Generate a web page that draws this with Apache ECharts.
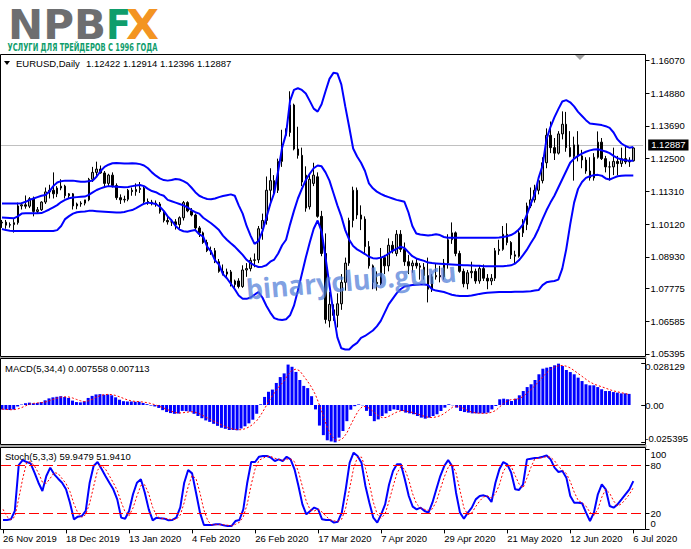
<!DOCTYPE html>
<html><head><meta charset="utf-8">
<script src="https://cdn.jsdelivr.net/npm/echarts@6/dist/echarts.min.js"></script>
<style>html,body{margin:0;padding:0;background:#fff;}#c{width:691px;height:549px;}</style>
</head><body><div id="c"></div>
<script>
// ---------- DATA ----------
const opens = [
1.1016,1.1019,1.1008,1.1010,1.1017,1.1078,1.1082,1.1077,1.1104,1.1058,
1.1064,1.1092,1.1129,1.1135,1.1122,1.1143,1.1150,1.1115,1.1122,1.1078,
1.1085,1.1088,1.1100,1.1175,1.1200,1.1212,1.1198,1.1160,1.1190,1.1152,
1.1108,1.1100,1.1102,1.1135,1.1130,1.1138,1.1142,1.1094,1.1092,1.1088,
1.1085,1.1057,1.1025,1.1020,1.1020,1.1010,1.1035,1.1090,1.1060,1.1045,
1.0998,1.0980,1.0945,1.0915,1.0915,1.0875,1.0840,1.0830,1.0838,1.0792,
1.0805,1.0785,1.0845,1.0850,1.0880,1.0882,1.0995,1.1025,1.1135,1.1170,
1.1135,1.1240,1.1335,1.1345,1.1445,1.1285,1.1262,1.1070,1.1075,1.1160,
1.1184,1.1040,1.0905,1.0660,1.0700,1.0680,1.0722,1.0800,1.0870,1.1025,
1.1135,1.1045,1.1030,1.0930,1.0860,1.0800,1.0795,1.0890,1.0860,1.0935,
1.0905,1.0975,1.0920,1.0875,1.0860,1.0870,1.0860,1.0855,1.0825,1.0775,
1.0820,1.0825,1.0820,1.0870,1.0955,1.0980,1.0905,1.0840,1.0795,1.0835,
1.0840,1.0805,1.0850,1.0815,1.0805,1.0815,1.0915,1.0920,1.0975,1.0945,
1.0900,1.0895,1.0980,1.1010,1.1078,1.1100,1.1135,1.1170,1.1235,1.1335,
1.1290,1.1270,1.1340,1.1375,1.1290,1.1258,1.1300,1.1260,1.1245,1.1205,
1.1180,1.1255,1.1310,1.1250,1.1220,1.1220,1.1240,1.1232,1.1250,1.1238,
1.12422];
const highs = [
1.1027,1.1027,1.1018,1.1030,1.1090,1.1090,1.1116,1.1110,1.1112,1.1074,
1.1095,1.1145,1.1155,1.1200,1.1150,1.1175,1.1155,1.1125,1.1125,1.1090,
1.1095,1.1100,1.1180,1.1220,1.1239,1.1225,1.1205,1.1195,1.1200,1.1160,
1.1120,1.1115,1.1140,1.1145,1.1160,1.1165,1.1148,1.1105,1.1100,1.1098,
1.1092,1.1062,1.1040,1.1030,1.1030,1.1040,1.1096,1.1095,1.1070,1.1050,
1.1005,1.0985,1.0955,1.0930,1.0925,1.0885,1.0865,1.0850,1.0845,1.0810,
1.0815,1.0862,1.0870,1.0890,1.0905,1.1005,1.1050,1.1185,1.1215,1.1190,
1.1250,1.1355,1.1360,1.1495,1.1450,1.1366,1.1290,1.1222,1.1195,1.1235,
1.1200,1.1060,1.0978,1.0765,1.0720,1.0760,1.0830,1.0890,1.1035,1.1148,
1.1145,1.1080,1.1040,1.0950,1.0865,1.0840,1.0925,1.0900,1.0960,1.0950,
1.0990,1.0990,1.0945,1.0900,1.0880,1.0885,1.0870,1.0870,1.0890,1.0830,
1.0870,1.0860,1.0885,1.0975,1.1018,1.0985,1.0915,1.0850,1.0845,1.0875,
1.0850,1.0860,1.0865,1.0830,1.0830,1.0925,1.0955,1.1005,1.1015,1.0950,
1.0915,1.0995,1.1030,1.1090,1.1145,1.1155,1.1180,1.1255,1.1360,1.1385,
1.1325,1.1350,1.1422,1.1420,1.1350,1.1330,1.1350,1.1282,1.1255,1.1255,
1.1270,1.1349,1.1325,1.1260,1.1240,1.1290,1.1260,1.1290,1.1300,1.1255,
1.12914];
const lows = [
1.0998,1.0995,1.0999,1.0981,1.1010,1.1065,1.1068,1.1070,1.1040,1.1050,
1.1060,1.1085,1.1105,1.1105,1.1110,1.1135,1.1105,1.1105,1.1065,1.1066,
1.1075,1.1080,1.1095,1.1165,1.1185,1.1195,1.1150,1.1150,1.1145,1.1100,
1.1085,1.1090,1.1095,1.1115,1.1115,1.1125,1.1088,1.1082,1.1080,1.1075,
1.1050,1.1018,1.1010,1.1005,1.0992,1.0995,1.1025,1.1055,1.1040,1.0990,
1.0965,1.0940,1.0910,1.0900,1.0870,1.0835,1.0825,1.0820,1.0785,1.0780,
1.0778,1.0780,1.0820,1.0840,1.0855,1.0870,1.0955,1.1010,1.1080,1.1120,
1.1125,1.1220,1.1325,1.1330,1.1280,1.1250,1.1150,1.1057,1.1065,1.1150,
1.1035,1.0895,1.0650,1.0636,1.0660,1.0636,1.0700,1.0770,1.0860,1.1000,
1.1030,1.0990,1.0905,1.0850,1.0775,1.0770,1.0790,1.0830,1.0840,1.0905,
1.0895,1.0910,1.0860,1.0830,1.0835,1.0850,1.0810,1.0810,1.0727,1.0765,
1.0810,1.0800,1.0810,1.0850,1.0940,1.0895,1.0835,1.0782,1.0775,1.0815,
1.0795,1.0795,1.0805,1.0775,1.0790,1.0805,1.0900,1.0915,1.0935,1.0885,
1.0870,1.0890,1.0965,1.0990,1.1070,1.1090,1.1120,1.1160,1.1215,1.1270,
1.1245,1.1265,1.1320,1.1275,1.1255,1.1170,1.1240,1.1215,1.1195,1.1170,
1.1170,1.1250,1.1245,1.1200,1.1170,1.1190,1.1190,1.1220,1.1230,1.1220,
1.12396];
const closes = [
1.1019,1.1008,1.1010,1.1017,1.1078,1.1082,1.1077,1.1104,1.1058,1.1064,
1.1092,1.1129,1.1135,1.1122,1.1143,1.1150,1.1115,1.1122,1.1078,1.1085,
1.1088,1.1100,1.1175,1.1200,1.1212,1.1198,1.1160,1.1190,1.1152,1.1108,
1.1100,1.1102,1.1135,1.1130,1.1138,1.1142,1.1094,1.1092,1.1088,1.1085,
1.1057,1.1025,1.1020,1.1020,1.1010,1.1035,1.1090,1.1060,1.1045,1.0998,
1.0980,1.0945,1.0915,1.0915,1.0875,1.0840,1.0830,1.0838,1.0792,1.0805,
1.0785,1.0845,1.0850,1.0880,1.0882,1.0995,1.1025,1.1135,1.1170,1.1135,
1.1240,1.1285,1.1345,1.1445,1.1285,1.1262,1.1165,1.1190,1.1175,1.1190,
1.1040,1.0905,1.0665,1.0720,1.0680,1.0722,1.0800,1.0870,1.1025,1.1135,
1.1045,1.1030,1.0930,1.0860,1.0800,1.0795,1.0890,1.0860,1.0935,1.0915,
1.0975,1.0920,1.0875,1.0860,1.0870,1.0860,1.0855,1.0825,1.0775,1.0820,
1.0825,1.0820,1.0870,1.0955,1.0980,1.0905,1.0840,1.0795,1.0835,1.0840,
1.0805,1.0850,1.0815,1.0805,1.0815,1.0915,1.0920,1.0975,1.0945,1.0900,
1.0895,1.0980,1.1010,1.1078,1.1100,1.1135,1.1170,1.1235,1.1335,1.1290,
1.1270,1.1340,1.1375,1.1290,1.1258,1.1300,1.1260,1.1245,1.1205,1.1180,
1.1255,1.1310,1.1250,1.1220,1.1220,1.1240,1.1232,1.1250,1.1238,1.1242,
1.12887];
const bbUpper = [
1.1087,1.1087,1.1087,1.1087,1.1087,1.1088,1.1093,1.1100,1.1105,1.1110,
1.1115,1.1118,1.1130,1.1150,1.1163,1.1168,1.1170,1.1170,1.1170,1.1168,
1.1166,1.1166,1.1168,1.1170,1.1185,1.1205,1.1220,1.1228,1.1233,1.1234,
1.1233,1.1232,1.1232,1.1233,1.1232,1.1230,1.1225,1.1215,1.1200,1.1188,
1.1178,1.1172,1.1170,1.1172,1.1176,1.1174,1.1168,1.1160,1.1145,1.1128,
1.1115,1.1108,1.1103,1.1102,1.1105,1.1110,1.1114,1.1117,1.1120,1.1115,
1.1080,1.1050,1.1005,1.0970,1.0940,1.0950,1.0985,1.1035,1.1085,1.1125,
1.1205,1.1290,1.1340,1.1460,1.1500,1.1506,1.1500,1.1487,1.1460,1.1432,
1.1421,1.1448,1.1495,1.1540,1.1562,1.1560,1.1520,1.1440,1.1365,1.1287,
1.1258,1.1235,1.1205,1.1160,1.1142,1.1130,1.1122,1.1115,1.1110,1.1105,
1.1100,1.1097,1.1093,1.1055,1.1005,1.0978,1.0974,1.0972,1.0970,1.0972,
1.0975,1.0972,1.0965,1.0962,1.0962,1.0962,1.0962,1.0962,1.0962,1.0962,
1.0962,1.0962,1.0962,1.0962,1.0962,1.0962,1.0963,1.0965,1.0968,1.0972,
1.0980,1.0992,1.1010,1.1045,1.1085,1.1120,1.1180,1.1225,1.1320,1.1365,
1.1400,1.1430,1.1458,1.1463,1.1455,1.1440,1.1420,1.1405,1.1390,1.1378,
1.1376,1.1374,1.1372,1.1368,1.1362,1.1345,1.1320,1.1305,1.1296,1.1290,
1.1292];
const bbMiddle = [
1.1036,1.1035,1.1034,1.1033,1.1040,1.1050,1.1051,1.1051,1.1051,1.1051,
1.1052,1.1058,1.1065,1.1073,1.1081,1.1092,1.1100,1.1106,1.1109,1.1110,
1.1111,1.1112,1.1118,1.1127,1.1136,1.1142,1.1147,1.1150,1.1149,1.1148,
1.1147,1.1146,1.1147,1.1150,1.1152,1.1154,1.1150,1.1140,1.1132,1.1128,
1.1120,1.1115,1.1100,1.1095,1.1090,1.1085,1.1080,1.1073,1.1063,1.1055,
1.1050,1.1035,1.1025,1.1015,1.1003,1.0990,1.0970,1.0955,1.0942,1.0930,
1.0915,1.0900,1.0882,1.0870,1.0862,1.0856,1.0857,1.0862,1.0875,1.0883,
1.0905,1.0935,1.0955,1.1010,1.1060,1.1105,1.1140,1.1172,1.1195,1.1215,
1.1225,1.1222,1.1200,1.1170,1.1125,1.1080,1.1040,1.0990,1.0955,1.0932,
1.0920,1.0912,1.0903,1.0893,1.0888,1.0887,1.0890,1.0895,1.0905,1.0915,
1.0922,1.0930,1.0925,1.0910,1.0895,1.0887,1.0882,1.0878,1.0872,1.0870,
1.0869,1.0868,1.0867,1.0866,1.0865,1.0864,1.0863,1.0862,1.0862,1.0861,
1.0860,1.0860,1.0859,1.0859,1.0859,1.0859,1.0859,1.0859,1.0860,1.0862,
1.0868,1.0880,1.0898,1.0918,1.0942,1.0965,1.0995,1.1030,1.1062,1.1090,
1.1115,1.1145,1.1175,1.1205,1.1235,1.1250,1.1260,1.1268,1.1275,1.1280,
1.1283,1.1284,1.1280,1.1276,1.1270,1.1260,1.1252,1.1247,1.1244,1.1242,
1.1242];
const bbLower = [
1.0994,1.0990,1.0988,1.0987,1.0987,1.0987,1.0987,1.0987,1.0987,1.0987,
1.0987,1.0987,1.0987,1.0987,1.0990,1.1005,1.1030,1.1041,1.1050,1.1055,
1.1057,1.1058,1.1060,1.1060,1.1059,1.1058,1.1057,1.1056,1.1055,1.1054,
1.1054,1.1056,1.1060,1.1063,1.1070,1.1078,1.1086,1.1090,1.1088,1.1085,
1.1075,1.1060,1.1040,1.1025,1.1005,1.0992,1.0986,1.0984,1.0988,1.0990,
1.0975,1.0966,1.0930,1.0912,1.0880,1.0865,1.0830,1.0815,1.0795,1.0775,
1.0752,1.0740,1.0740,1.0745,1.0755,1.0765,1.0745,1.0715,1.0690,1.0670,
1.0665,1.0663,1.0666,1.0680,1.0715,1.0770,1.0830,1.0890,1.0945,1.0995,
1.1025,1.0985,1.0890,1.0790,1.0690,1.0600,1.0560,1.0556,1.0556,1.0570,
1.0580,1.0598,1.0605,1.0615,1.0625,1.0640,1.0660,1.0690,1.0720,1.0740,
1.0760,1.0775,1.0785,1.0788,1.0790,1.0791,1.0792,1.0792,1.0790,1.0775,
1.0770,1.0768,1.0765,1.0760,1.0755,1.0752,1.0750,1.0750,1.0750,1.0752,
1.0755,1.0758,1.0760,1.0762,1.0763,1.0764,1.0765,1.0765,1.0765,1.0765,
1.0766,1.0766,1.0766,1.0767,1.0768,1.0770,1.0772,1.0790,1.0800,1.0803,
1.0805,1.0810,1.0850,1.0920,1.1010,1.1090,1.1140,1.1165,1.1180,1.1186,
1.1190,1.1191,1.1188,1.1178,1.1174,1.1180,1.1186,1.1188,1.1189,1.1189,
1.1189];
const macdHist = [
-0.0030,-0.0032,-0.0034,-0.0031,-0.0010,0.0003,0.0012,0.0016,0.0012,0.0014,
0.0020,0.0032,0.0045,0.0052,0.0056,0.0060,0.0054,0.0048,0.0030,0.0020,
0.0018,0.0025,0.0048,0.0062,0.0072,0.0074,0.0070,0.0072,0.0066,0.0052,
0.0036,0.0026,0.0024,0.0024,0.0022,0.0022,0.0014,0.0006,-0.0004,-0.0010,
-0.0020,-0.0035,-0.0048,-0.0055,-0.0060,-0.0058,-0.0040,-0.0042,-0.0045,-0.0060,
-0.0075,-0.0090,-0.0105,-0.0115,-0.0128,-0.0142,-0.0155,-0.0162,-0.0170,-0.0170,
-0.0172,-0.0160,-0.0145,-0.0125,-0.0100,-0.0060,0.0005,0.0055,0.0090,0.0105,
0.0150,0.0190,0.0215,0.0275,0.0260,0.0225,0.0170,0.0130,0.0115,0.0060,
-0.0030,-0.0140,-0.0205,-0.0240,-0.0248,-0.025395,-0.0222,-0.0177,-0.0110,-0.0032,
-0.0008,0.0004,-0.0002,-0.0040,-0.0075,-0.0110,-0.0098,-0.0075,-0.0057,-0.0041,
-0.0030,-0.0034,-0.0041,-0.0052,-0.0057,-0.0063,-0.0075,-0.0086,-0.0093,-0.0086,
-0.0075,-0.0063,-0.0041,-0.0018,0.0005,-0.0002,-0.0018,-0.0041,-0.0048,-0.0052,
-0.0057,-0.0057,-0.0057,-0.0057,-0.0052,-0.0030,-0.0007,0.0039,0.0043,0.0039,
0.0027,0.0043,0.0066,0.0095,0.0122,0.0141,0.0170,0.0209,0.0247,0.0254,
0.0259,0.0270,0.028129,0.0265,0.0238,0.0224,0.0209,0.0186,0.0163,0.0141,
0.0134,0.0134,0.0122,0.0107,0.0095,0.0095,0.0088,0.0084,0.0079,0.0079,
0.007558];
const macdSignal = [
-0.0028,-0.0030,-0.0032,-0.0032,-0.0027,-0.0018,-0.0006,0.0005,0.0011,0.0014,
0.0016,0.0020,0.0028,0.0037,0.0046,0.0053,0.0056,0.0055,0.0048,0.0038,
0.0029,0.0023,0.0028,0.0038,0.0052,0.0064,0.0070,0.0072,0.0071,0.0065,
0.0056,0.0045,0.0035,0.0028,0.0024,0.0023,0.0020,0.0016,0.0010,0.0002,
-0.0007,-0.0017,-0.0029,-0.0040,-0.0050,-0.0055,-0.0053,-0.0050,-0.0046,-0.0047,
-0.0055,-0.0068,-0.0082,-0.0096,-0.0110,-0.0122,-0.0135,-0.0147,-0.0157,-0.0164,
-0.0168,-0.0168,-0.0162,-0.0150,-0.0132,-0.0107,-0.0070,-0.0025,0.0022,0.0064,
0.0100,0.0134,0.0165,0.0207,0.0235,0.0244,0.0232,0.0196,0.0160,0.0120,
0.0069,0.0000,-0.0074,-0.0154,-0.0208,-0.0237,-0.0241,-0.0226,-0.0190,-0.0135,
-0.0082,-0.0037,-0.0010,-0.0011,-0.0028,-0.0051,-0.0072,-0.0086,-0.0085,-0.0073,
-0.0058,-0.0045,-0.0037,-0.0041,-0.0046,-0.0053,-0.0062,-0.0070,-0.0079,-0.0085,
-0.0085,-0.0080,-0.0071,-0.0055,-0.0035,-0.0014,-0.0008,-0.0014,-0.0027,-0.0040,
-0.0050,-0.0054,-0.0056,-0.0057,-0.0056,-0.0049,-0.0037,-0.0012,0.0011,0.0029,
0.0037,0.0038,0.0044,0.0058,0.0082,0.0106,0.0132,0.0161,0.0192,0.0220,
0.0242,0.0258,0.0267,0.0269,0.0264,0.0252,0.0234,0.0214,0.0195,0.0175,
0.0156,0.0143,0.0133,0.0124,0.0115,0.0105,0.0096,0.0090,0.0084,0.0078,
0.007113];
const stochK = [
11.7,11.7,12.5,22.9,80.0,86.2,83.7,82.0,70.5,58.0,
47.7,66.3,76.7,68.4,63.0,58.0,49.8,33.2,12.5,15.8,
16.6,22.9,58.0,78.7,83.7,75.4,66.3,58.0,49.8,37.3,
14.6,13.3,22.9,43.6,58.0,62.2,45.6,24.9,11.3,14.6,
13.7,13.3,11.3,11.7,14.6,27.4,58.0,73.8,69.6,45.6,
20.8,5.5,5.5,5.5,6.3,6.3,5.0,4.2,4.2,10.4,
11.7,24.9,58.0,83.7,83.7,90.3,91.2,91.2,89.1,85.0,
87.0,85.0,90.3,87.0,74.6,53.9,31.1,18.7,22.9,27.1,
24.9,12.5,11.7,11.7,8.4,9.6,20.8,49.8,82.9,95.3,
91.2,82.9,53.9,33.2,14.6,8.4,18.7,31.1,55.8,72.5,
80.8,80.8,62.2,41.5,28.2,24.9,27.0,22.9,20.8,33.2,
49.8,66.3,78.7,86.1,78.7,45.6,20.8,13.3,20.8,27.0,
37.3,41.5,42.3,40.7,34.0,58.0,74.6,83.7,80.8,70.5,
49.8,49.0,55.8,87.0,87.8,88.6,89.1,90.3,91.9,87.0,
76.7,71.3,72.5,64.3,41.5,33.2,33.2,32.4,20.8,10.4,
20.8,43.6,55.8,49.8,29.1,27.0,31.1,37.3,43.6,49.8,
59.9479];
const stochD = [
25.0,16.0,12.0,15.7,38.5,63.0,83.3,84.0,78.7,70.2,
58.7,57.3,63.6,70.5,69.4,63.1,56.9,47.0,31.8,20.5,
15.0,18.4,32.5,53.2,73.5,79.3,75.1,66.6,58.0,48.4,
33.9,21.7,16.9,26.6,41.5,54.6,55.3,44.2,27.3,16.9,
13.2,13.9,12.8,12.1,12.5,17.9,33.3,53.1,67.1,63.0,
45.3,24.0,10.6,5.5,5.8,6.0,5.9,5.2,4.5,6.3,
8.8,15.7,31.5,55.5,75.1,85.9,88.4,90.9,90.5,88.4,
87.0,85.7,87.4,87.4,84.0,71.8,53.2,34.6,24.2,22.9,
25.0,21.5,16.4,12.0,10.6,9.9,12.9,26.7,51.2,76.0,
89.8,89.8,76.0,56.7,33.9,18.7,13.9,19.4,35.2,53.1,
69.7,78.0,74.6,61.5,44.0,31.5,26.7,24.9,23.6,25.6,
34.6,49.8,64.9,77.0,81.2,70.1,48.4,26.6,18.3,20.4,
28.4,35.3,40.4,41.5,39.0,44.2,55.5,72.1,79.7,78.3,
67.0,56.4,51.5,63.9,76.9,87.8,88.5,89.3,90.4,89.7,
85.2,78.3,73.5,69.4,59.4,46.3,36.0,32.9,28.8,21.2,
17.3,24.9,40.1,49.7,44.9,35.3,29.1,31.8,37.3,43.6,
51.9410];
const dateTicks = ['26 Nov 2019','18 Dec 2019','13 Jan 2020','4 Feb 2020','26 Feb 2020','17 Mar 2020','7 Apr 2020','29 Apr 2020','21 May 2020','12 Jun 2020','6 Jul 2020'];
const priceTicks = [1.16070,1.14880,1.13690,1.12500,1.11310,1.10120,1.08930,1.07775,1.06585,1.05395];
const macdTicks = [0.028129, 0, -0.025395];
const macdTickText = ['0.028129', '0.00', '-0.025395'];
const stochTicks = [100, 80, 20, 0];
const stochLevels = [80, 20];
const symbolName = 'EURUSD,Daily';
const macdName = 'MACD(5,34,4)';
const stochName = 'Stoch(5,3,3)';
const logoMain = 'NPB', logoF = 'F', logoX = 'X';
const logoSub = 'УСЛУГИ ДЛЯ ТРЕЙДЕРОВ С 1996 ГОДА';
const watermark = 'binaryclub.guru';

// ---------- LAYOUT ----------
const TICK_EVERY = 16;
const SLOTS = opens.length + 2;          // two empty slots of chart shift
const BAR = 3.9475;
const GL = 1.7 - BAR / 2;
const GW = SLOTS * BAR;
const FRAME_R = 645.5;
const cats = Array.from({length: SLOTS}, (_, i) => String(i));
const FONT = 'Liberation Sans';
const FS = 9.5;
const last = opens.length - 1;

const mc = document.createElement('canvas').getContext('2d');
function fit(text, font, width) { mc.font = font; return width / mc.measureText(text).width; }

const tickInt = (idx) => idx % TICK_EVERY === 0 && idx / TICK_EVERY < dateTicks.length;

function xAx(gi, labels) {
  return {
    type: 'category', gridIndex: gi, data: cats, boundaryGap: true,
    axisLine: {show: false}, splitLine: {show: false},
    axisTick: labels ? {show: true, alignWithLabel: true, interval: tickInt, length: 4, lineStyle: {color: '#000'}} : {show: false},
    axisLabel: labels ? {show: true, interval: tickInt, align: 'left', color: '#000', fontSize: FS, fontFamily: FONT, margin: 4,
      formatter: (v, idx) => dateTicks[Math.round(idx / TICK_EVERY)] || ''} : {show: false}
  };
}
function nearIdx(arr, v) { let b = 0; arr.forEach((a, i) => { if (Math.abs(a - v) < Math.abs(arr[b] - v)) b = i; }); return b; }
const yOff = FRAME_R - (GL + GW);
const labRich = {
  n: {fontSize: FS, fontFamily: FONT, color: '#000'},
  dn5: {fontSize: FS, fontFamily: FONT, color: '#000', padding: [5, 0, 0, 0]},
  up8: {fontSize: FS, fontFamily: FONT, color: '#000', padding: [0, 0, 8, 0]},
  dn11: {fontSize: FS, fontFamily: FONT, color: '#000', padding: [11, 0, 0, 0]},
  up11: {fontSize: FS, fontFamily: FONT, color: '#000', padding: [0, 0, 11, 0]}
};

const candleData = opens.map((o, i) => [o, closes[i], lows[i], highs[i]]);
const lineS = (data, color, width, type, x, y, extra) => Object.assign({
  type: 'line', data, xAxisIndex: x, yAxisIndex: y, symbol: 'none', silent: true,
  lineStyle: {color, width, type}, z: 3, animation: false
}, extra || {});

const LOGO_FONT = 'bold 41px "DejaVu Sans"';
const LOGO_Y = 24.5;
const chart = echarts.init(document.getElementById('c'), null, {renderer: 'svg', width: 691, height: 549});
chart.setOption({
  animation: false,
  backgroundColor: '#fff',
  textStyle: {fontFamily: FONT},
  grid: [
    {left: GL, top: 54, width: GW, height: 302},
    {left: GL, top: 359, width: GW, height: 85.3},
    {left: GL, top: 448.9, width: GW, height: 80.5}
  ],
  xAxis: [xAx(0, false), xAx(1, false), xAx(2, true)],
  yAxis: [
    {type: 'value', gridIndex: 0, position: 'right', offset: yOff, min: 1.05321, max: 1.16306,
      axisLine: {show: false}, splitLine: {show: false},
      axisTick: {show: true, customValues: priceTicks, length: 4, lineStyle: {color: '#000'}},
      axisLabel: {show: true, customValues: priceTicks, formatter: v => v.toFixed(5), color: '#000', fontSize: FS, fontFamily: FONT, margin: 5}},
    {type: 'value', gridIndex: 1, position: 'right', offset: yOff, min: -0.026735, max: 0.031293,
      axisLine: {show: false}, splitLine: {show: false},
      axisTick: {show: true, customValues: macdTicks, length: 4, lineStyle: {color: '#000'}},
      axisLabel: {show: true, customValues: macdTicks, margin: 4, rich: labRich,
        formatter: v => { const i = nearIdx(macdTicks, v); const k = i === 0 ? 'dn5' : (i === macdTicks.length - 1 ? 'up8' : 'n'); return '{' + k + '|' + macdTickText[i] + '}'; }}},
    {type: 'value', gridIndex: 2, position: 'right', offset: yOff, min: 0, max: 100,
      axisLine: {show: false}, splitLine: {show: false},
      axisTick: {show: true, customValues: stochTicks, length: 4, lineStyle: {color: '#000'}},
      axisLabel: {show: true, customValues: stochTicks, margin: 5, rich: labRich,
        formatter: v => { const k = v === 100 ? 'dn11' : (v === 0 ? 'up11' : 'n'); return '{' + k + '|' + v + '}'; }}}
  ],
  series: [
    {type: 'candlestick', data: candleData, xAxisIndex: 0, yAxisIndex: 0, barWidth: 2, silent: true, z: 2,
      itemStyle: {color: '#a8a8a8', color0: '#000000', borderColor: '#000000', borderColor0: '#000000', borderColorDoji: '#000000', borderWidth: 1},
      markLine: {silent: true, symbol: 'none', z: 1, animation: false,
        lineStyle: {color: '#c0c0c0', width: 1, type: 'solid'},
        label: {show: true, position: 'end', distance: 5, formatter: () => closes[last].toFixed(5),
          backgroundColor: '#000', color: '#fff', fontSize: FS, fontFamily: FONT, padding: [1, 3, 0, 3]},
        data: [{yAxis: closes[last]}]}},
    lineS(bbUpper, '#0000ff', 2, 'solid', 0, 0),
    lineS(bbMiddle, '#0000ff', 2, 'solid', 0, 0),
    lineS(bbLower, '#0000ff', 2, 'solid', 0, 0),
    {type: 'bar', data: macdHist, xAxisIndex: 1, yAxisIndex: 1, barWidth: 3, silent: true, itemStyle: {color: '#0000ff'}},
    lineS(macdSignal, '#ff0000', 1, [2, 2], 1, 1),
    lineS(stochK, '#0000ff', 2, 'solid', 2, 2, {
      markLine: {silent: true, symbol: 'none', animation: false, label: {show: false},
        lineStyle: {color: '#ff0000', width: 1, type: [10, 4]},
        data: stochLevels.map(v => ({yAxis: v}))}}),
    lineS(stochD, '#ff0000', 1, [2, 2], 2, 2)
  ],
  graphic: [
    {type: 'rect', shape: {x: 0.5, y: 54.5, width: FRAME_R - 0.5, height: 302}, style: {fill: 'none', stroke: '#000', lineWidth: 1}, z: 50, silent: true},
    {type: 'rect', shape: {x: 0.5, y: 358.5, width: FRAME_R - 0.5, height: 86}, style: {fill: 'none', stroke: '#000', lineWidth: 1}, z: 50, silent: true},
    {type: 'rect', shape: {x: 0.5, y: 447.5, width: FRAME_R - 0.5, height: 82}, style: {fill: 'none', stroke: '#000', lineWidth: 1}, z: 50, silent: true},
    {type: 'rect', shape: {x: 0, y: 356.5, width: FRAME_R + 1, height: 2}, style: {fill: '#a8a8a8'}, z: 49, silent: true},
    {type: 'rect', shape: {x: 0, y: 445, width: FRAME_R + 1, height: 2.5}, style: {fill: '#a8a8a8'}, z: 49, silent: true},
    {type: 'polygon', shape: {points: [[575, 55], [585, 55], [580, 60]]}, style: {fill: '#a0a0a0'}, z: 50, silent: true},
    {type: 'polygon', shape: {points: [[4, 61], [10, 61], [7, 65]]}, style: {fill: '#000'}, z: 50, silent: true},
    {type: 'text', x: 16, y: 63, z: 50, silent: true, style: {text: symbolName, font: FS + 'px "' + FONT + '"', fill: '#000', align: 'left', verticalAlign: 'middle'}},
    {type: 'text', x: 86, y: 63, z: 50, silent: true, style: {text: [opens[last], highs[last], lows[last], closes[last]].map(v => v.toFixed(5)).join(' '), font: FS + 'px "' + FONT + '"', fill: '#000', align: 'left', verticalAlign: 'middle'}},
    {type: 'text', x: 5, y: 368, z: 50, silent: true, style: {text: macdName + ' ' + macdHist[last].toFixed(6) + ' ' + macdSignal[last].toFixed(6), font: FS + 'px "' + FONT + '"', fill: '#000', align: 'left', verticalAlign: 'middle'}},
    {type: 'text', x: 5, y: 456, z: 50, silent: true, style: {text: stochName + ' ' + stochK[last].toFixed(4) + ' ' + stochD[last].toFixed(4), font: FS + 'px "' + FONT + '"', fill: '#000', align: 'left', verticalAlign: 'middle'}},
    // logo
    {type: 'text', x: 8, y: LOGO_Y, scaleX: fit(logoMain, LOGO_FONT, 98), z: 50, silent: true, style: {text: logoMain, font: LOGO_FONT, fill: '#6d6e70', align: 'left', verticalAlign: 'middle'}},
    {type: 'text', x: 106, y: LOGO_Y, scaleX: fit(logoF, LOGO_FONT, 25), z: 50, silent: true, style: {text: logoF, font: LOGO_FONT, fill: '#0f9d6c', align: 'left', verticalAlign: 'middle'}},
    {type: 'text', x: 126, y: LOGO_Y, scaleX: fit(logoX, LOGO_FONT, 33), z: 50, silent: true, style: {text: logoX, font: LOGO_FONT, fill: '#f39422', align: 'left', verticalAlign: 'middle'}},
    (function () { const f = 'bold 11px "DejaVu Sans Condensed"'; return {type: 'text', x: 7.5, y: 46.5, scaleX: fit(logoSub, f, 150), z: 50, silent: true, style: {text: logoSub, font: f, fill: '#0f9d6c', align: 'left', verticalAlign: 'middle'}}; })(),
    // watermark
    (function () { const f = 'bold 28px "Open Sans"'; return {type: 'text', x: 246, y: 289, rotation: 0.086, scaleX: fit(watermark, f, 211), z: 100, silent: true, style: {text: watermark, font: f, fill: 'rgba(80,125,215,0.72)', align: 'left', verticalAlign: 'middle'}}; })()
  ]
});
</script>
</body></html>
